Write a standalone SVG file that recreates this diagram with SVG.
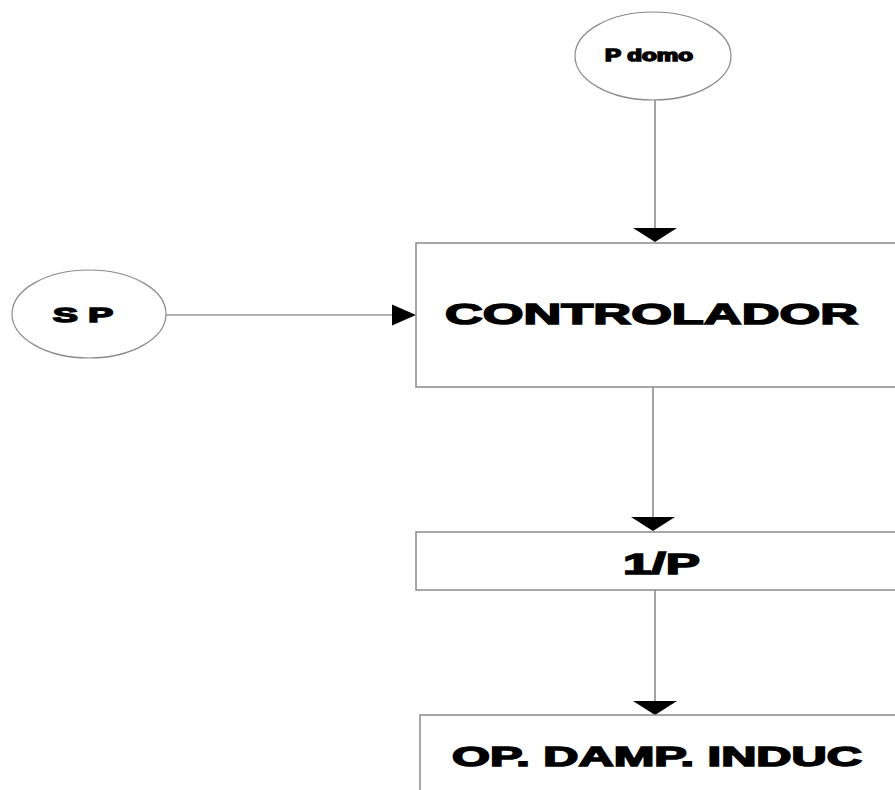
<svg xmlns="http://www.w3.org/2000/svg" width="895" height="790" viewBox="0 0 895 790">
<style>
.box{fill:#fff;stroke:#8a8a8a;stroke-width:1.5}
.ell{fill:#fff;stroke:#8a8a8a;stroke-width:1.2}
.ln{stroke:#666;stroke-width:1.2;fill:none}
.ah{fill:#000}
.t{font-family:"Liberation Sans",Arial,sans-serif;font-weight:bold;fill:#000;stroke:#000;stroke-width:1.5}
</style>
<rect width="895" height="790" fill="#fff"/>
<g id="connectors">
<line class="ln" x1="655" y1="100" x2="655" y2="229"/>
<polygon class="ah" points="633,228 677,228 655,242"/>
<line class="ln" x1="166" y1="315" x2="393" y2="315"/>
<polygon class="ah" points="392,304.5 392,325.5 416,315"/>
<line class="ln" x1="653" y1="387" x2="653" y2="518"/>
<polygon class="ah" points="631,517 675,517 653,531"/>
<line class="ln" x1="655" y1="590" x2="655" y2="702"/>
<polygon class="ah" points="633,701 677,701 655,715"/>
</g>
<g id="pdomo">
<ellipse class="ell" cx="653" cy="56" rx="78" ry="44"/>
<text class="t" x="605" y="61" font-size="16" textLength="88" lengthAdjust="spacingAndGlyphs" stroke-width="0.6">P domo</text>
</g>
<g id="sp">
<ellipse class="ell" cx="89" cy="314" rx="77" ry="44"/>
<text class="t" x="53" y="322" font-size="20" textLength="60" lengthAdjust="spacingAndGlyphs" stroke-width="1">S P</text>
</g>
<g id="controlador">
<rect class="box" x="416" y="243" width="490" height="144"/>
<text class="t" x="445" y="324" font-size="30" textLength="413" lengthAdjust="spacingAndGlyphs">CONTROLADOR</text>
</g>
<g id="inv-p">
<rect class="box" x="416" y="532" width="490" height="58"/>
<text class="t" x="623" y="574" font-size="30" textLength="77" lengthAdjust="spacingAndGlyphs">1/P</text>
</g>
<g id="op-damp">
<rect class="box" x="420" y="715" width="490" height="90"/>
<text class="t" x="452" y="766" font-size="27" textLength="410" lengthAdjust="spacingAndGlyphs">OP. DAMP. INDUC</text>
</g>
</svg>
